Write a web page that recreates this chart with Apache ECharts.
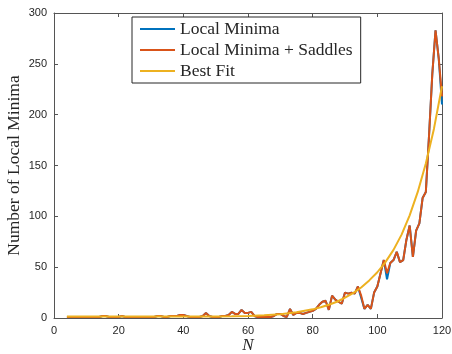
<!DOCTYPE html>
<html>
<head>
<meta charset="utf-8">
<script src="https://cdn.jsdelivr.net/npm/echarts@6/dist/echarts.min.js"></script>
<style>
  html, body { margin: 0; padding: 0; background: #fff; }
  #chart { width: 452px; height: 354px; }
</style>
</head>
<body>
<div id="chart"></div>
<script>
// N from 4 to 120
const nValues = [];
for (let n = 4; n <= 120; n++) nValues.push(n);

// Local Minima + Saddles (orange)
const saddles = [
  1, 1, 1, 1, 1, 1, 1, 1, 1, 1, 1, 2, 2, 1, 1, 1, 1, 2, 1, 1,   // 4..23
  1, 1, 1, 1, 1, 1, 1, 1, 2, 2, 1, 1, 2, 2, 2, 3, 3, 2, 1, 1,   // 24..43
  1, 1, 2, 5, 2, 1, 1, 1, 2, 2, 3, 6, 4, 4, 8, 5, 5, 6, 2, 1,   // 44..63
  1, 1, 1, 1, 2, 4, 4, 2, 1, 9, 3, 5, 5, 4, 5, 6, 7, 9, 13, 16, // 64..83
  17, 8, 22, 18, 16, 14, 25, 24, 25, 24, 31, 22, 9, 13, 9, 25, 31, 44, 57, 44, // 84..103
  54, 57, 65, 55, 57, 77, 91, 60, 86, 93, 118, 124, 180, 240, 283, 255, 218   // 104..120
];
// Local Minima (blue) - almost identical, differs in a few places
const minima = saddles.slice();
minima[95 - 4] = 20;
minima[103 - 4] = 38;
minima[120 - 4] = 210;

// Best fit curve
const fitN = [4, 10, 20, 30, 40, 50, 55, 60, 65, 70, 75, 80, 82.5, 85, 87.5, 90, 92.5, 95, 97.5, 100,
  102.5, 105, 107.5, 110, 112.5, 115, 117.5, 120];
const fitValues = [1.5, 1.5, 1.5, 1.5, 1.5, 1.5, 1.6, 2, 2.6, 3.7, 5.6, 8.5, 10.5, 13, 16, 20, 24.5, 30, 37, 45,
  55, 67, 82, 101, 124, 152, 186, 228];

const xTicks = [0, 20, 40, 60, 80, 100, 120];
const yTicks = [0, 50, 100, 150, 200, 250, 300];

const axisColor = '#555';
const labelFont = { color: '#262626', fontSize: 11, fontFamily: 'Liberation Sans, Arial, sans-serif' };
const serif = 'Liberation Serif, DejaVu Serif, serif';

const pair = (xs, ys) => xs.map((x, i) => [x, ys[i]]);

const chart = echarts.init(document.getElementById('chart'), null, { renderer: 'canvas' });

const baseX = {
  type: 'value', min: xTicks[0], max: xTicks[xTicks.length - 1], interval: 20,
  axisLine: { show: true, onZero: false, lineStyle: { color: axisColor, width: 1 } },
  axisTick: { show: true, inside: true, length: 4, lineStyle: { color: axisColor } },
  splitLine: { show: false }
};
const baseY = {
  type: 'value', min: yTicks[0], max: yTicks[yTicks.length - 1], interval: 50,
  axisLine: { show: true, onZero: false, lineStyle: { color: axisColor, width: 1 } },
  axisTick: { show: true, inside: true, length: 4, lineStyle: { color: axisColor } },
  splitLine: { show: false }
};

chart.setOption({
  animation: false,
  grid: { left: 54, right: 10, top: 13, bottom: 36, containLabel: false, outerBoundsMode: 'none' },
  legend: {
    orient: 'vertical',
    left: 132, top: 17,
    padding: [3, 8, 3, 8],
    itemGap: 3,
    itemWidth: 35, itemHeight: 2,
    icon: 'rect',
    borderColor: '#262626', borderWidth: 1,
    backgroundColor: '#fff',
    textStyle: { fontFamily: serif, fontSize: 17.5, color: '#262626', lineHeight: 16, padding: [0, 0, 0, 0] },
    data: ['Local Minima', 'Local Minima + Saddles', 'Best Fit']
  },
  xAxis: [
    Object.assign({}, baseX, {
      position: 'bottom',
      axisLabel: Object.assign({ margin: 7 }, labelFont),
      name: 'N', nameLocation: 'middle', nameGap: 19, nameMoveOverlap: false,
      nameTextStyle: { fontFamily: serif, fontStyle: 'italic', fontSize: 17, color: '#262626' }
    }),
    Object.assign({}, baseX, { position: 'top', axisLabel: { show: false } })
  ],
  yAxis: [
    Object.assign({}, baseY, {
      position: 'left',
      axisLabel: Object.assign({ margin: 7 }, labelFont),
      name: 'Number of Local Minima', nameLocation: 'middle', nameGap: 31, nameRotate: 90, nameMoveOverlap: false,
      nameTextStyle: { fontFamily: serif, fontSize: 17.5, color: '#262626' }
    }),
    Object.assign({}, baseY, { position: 'right', axisLabel: { show: false } })
  ],
  series: [
    {
      name: 'Local Minima', type: 'line', data: pair(nValues, minima),
      showSymbol: false, symbol: 'none',
      lineStyle: { color: '#0072BD', width: 2 }, itemStyle: { color: '#0072BD' }
    },
    {
      name: 'Local Minima + Saddles', type: 'line', data: pair(nValues, saddles),
      showSymbol: false, symbol: 'none',
      lineStyle: { color: '#D95319', width: 2 }, itemStyle: { color: '#D95319' }
    },
    {
      name: 'Best Fit', type: 'line', data: pair(fitN, fitValues),
      showSymbol: false, symbol: 'none',
      lineStyle: { color: '#EDB120', width: 2 }, itemStyle: { color: '#EDB120' }
    }
  ]
});
</script>
</body>
</html>
